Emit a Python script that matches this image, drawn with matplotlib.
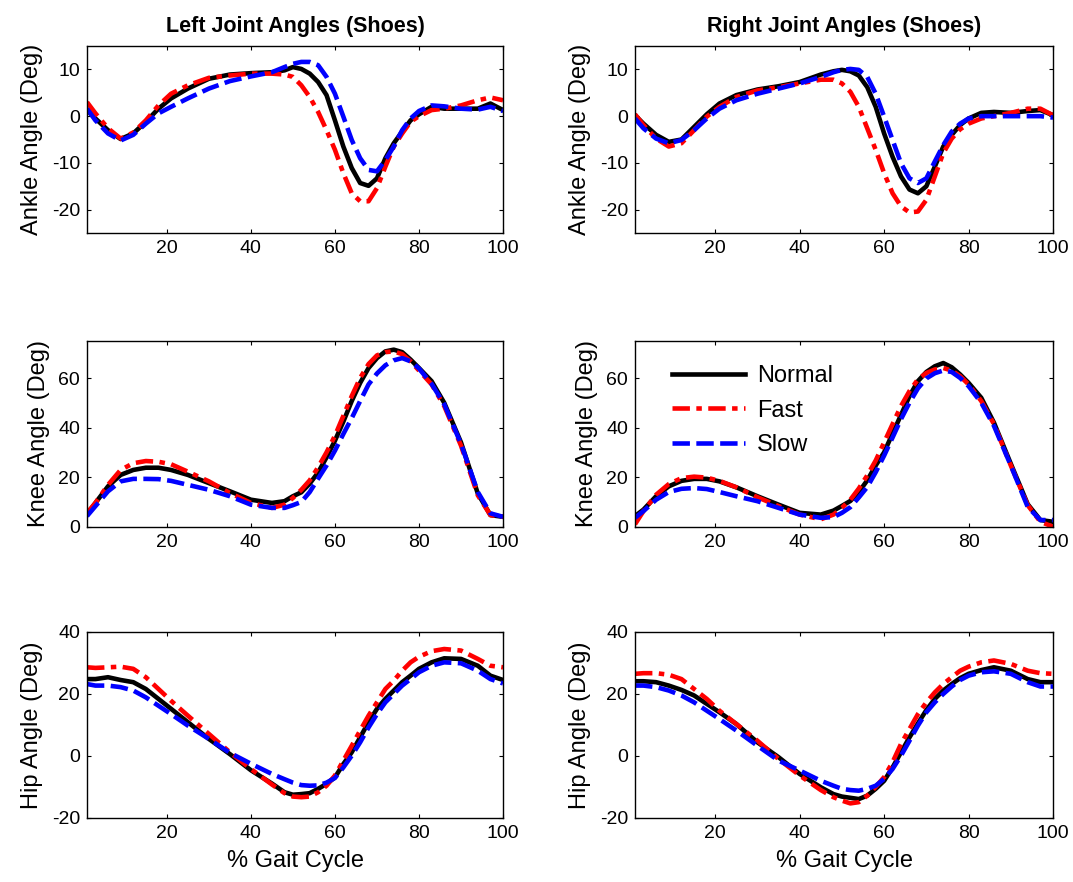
import matplotlib
matplotlib.use("Agg")
import matplotlib.pyplot as plt

plt.rcParams['font.family'] = ['Liberation Sans', 'DejaVu Sans']
plt.rcParams['axes.unicode_minus'] = False

# % gait cycle sample points (shared by every curve)
gait = [1, 3, 6, 9, 12, 15, 18, 21, 25, 30, 35, 40, 45, 48, 50, 52, 54, 56,
        58, 60, 62, 64, 66, 68, 70, 72, 74, 76, 78, 80, 83, 86, 90, 94, 97, 100]

# ankle, left side
ankle_l_normal = [1.3, -0.5, -3.0, -4.9, -3.7, -1.2, 1.6, 3.8, 5.9, 8.0, 8.9, 9.2, 9.4, 9.8, 10.5, 10.1, 9.1, 7.3,
                  4.5, -0.9, -6.5, -11.1, -14.3, -14.9, -13.3, -9.0, -5.8, -3.3, -0.9, 0.4, 2.0, 1.6, 1.6, 1.6, 2.7, 1.3]
ankle_l_fast = [3.0, 0.6, -2.6, -4.8, -3.5, -0.9, 2.3, 4.8, 6.6, 8.2, 8.7, 9.1, 9.1, 8.9, 8.4, 6.6, 4.1, 0.9,
                -3.0, -7.2, -12.2, -16.5, -18.2, -18.2, -15.4, -10.8, -6.5, -3.7, -1.2, 0.0, 1.3, 1.6, 2.3, 3.4, 4.0, 3.4]
ankle_l_slow = [1.6, -0.9, -3.7, -5.2, -4.0, -1.6, 0.6, 2.0, 3.8, 5.9, 7.5, 8.5, 9.4, 10.5, 11.2, 11.6, 11.6, 10.9,
                8.4, 4.8, -0.1, -5.1, -9.0, -11.5, -11.8, -9.4, -6.5, -3.0, -0.5, 1.1, 2.3, 2.1, 1.6, 1.4, 2.0, 1.1]

# ankle, right side
ankle_r_normal = [0.2, -1.6, -4.0, -5.5, -5.0, -2.3, 0.4, 2.7, 4.5, 5.7, 6.4, 7.3, 8.9, 9.6, 9.9, 9.6, 8.7, 6.2,
                  2.0, -3.7, -8.7, -12.9, -15.7, -16.5, -15.0, -10.8, -6.5, -4.0, -1.9, -0.5, 0.7, 0.9, 0.7, 1.1, 1.3, 0.2]
ankle_r_fast = [0.4, -1.9, -4.8, -6.5, -5.8, -3.0, -0.1, 2.0, 4.1, 5.5, 6.2, 7.0, 7.8, 7.8, 7.0, 5.2, 2.0, -2.6,
                -7.2, -12.2, -16.5, -19.3, -20.6, -20.4, -17.9, -12.9, -7.9, -4.8, -2.8, -1.6, -0.5, 0.0, 0.7, 1.6, 1.6, 0.2]
ankle_r_slow = [-0.5, -2.6, -4.8, -5.8, -5.1, -3.0, -0.5, 1.6, 3.4, 4.8, 5.9, 7.0, 8.4, 9.4, 9.9, 10.1, 9.9, 8.4,
                4.8, -0.1, -5.1, -10.1, -13.3, -14.3, -13.3, -9.7, -6.2, -3.3, -1.6, -0.5, 0.0, 0.0, 0.0, 0.0, 0.0, -0.3]

# knee
knee_l_normal = [5.0, 9.7, 16.4, 21.0, 23.0, 23.9, 23.9, 23.0, 21.0, 17.7, 14.4, 11.0, 9.7, 10.4, 12.4, 14.0, 17.5, 22.0,
                 28.1, 34.8, 42.5, 50.8, 58.1, 64.1, 68.1, 70.8, 71.5, 70.5, 67.5, 64.1, 58.8, 50.1, 34.1, 13.5, 4.8, 4.1]
knee_l_fast = [5.7, 9.7, 17.0, 23.0, 25.7, 26.6, 26.3, 25.3, 22.3, 18.4, 13.7, 9.7, 7.7, 9.0, 11.7, 15.0, 18.8, 24.1,
               30.1, 36.8, 44.8, 52.8, 60.1, 65.7, 69.2, 70.5, 70.8, 69.7, 66.8, 63.1, 57.5, 48.8, 32.8, 12.8, 4.8, 4.1]
knee_l_slow = [4.4, 8.4, 14.4, 18.4, 19.4, 19.4, 19.3, 18.6, 17.0, 15.0, 12.4, 9.0, 7.7, 7.7, 8.8, 10.1, 14.1, 19.5,
               24.8, 30.8, 37.5, 43.9, 50.8, 57.5, 61.9, 65.2, 67.2, 68.1, 66.8, 63.9, 57.7, 49.5, 33.5, 14.1, 5.5, 4.1]

knee_r_normal = [4.4, 7.0, 12.4, 16.4, 18.6, 19.4, 19.4, 18.4, 16.0, 12.4, 9.0, 5.7, 5.0, 6.6, 8.5, 10.5, 14.1, 18.8,
                 24.8, 30.1, 37.7, 45.2, 52.8, 58.8, 62.5, 64.8, 66.1, 64.4, 61.5, 58.1, 52.1, 42.1, 25.5, 9.2, 2.8, 2.1]
knee_r_fast = [1.1, 6.4, 13.0, 17.3, 19.7, 20.3, 19.9, 18.6, 16.0, 12.0, 8.4, 5.0, 3.1, 5.0, 7.7, 11.0, 15.5, 20.8,
               26.8, 34.1, 41.5, 48.8, 54.8, 59.5, 62.1, 63.5, 64.1, 63.1, 60.8, 57.5, 50.8, 41.5, 24.8, 8.8, 2.1, 0.1]
knee_r_slow = [3.7, 6.4, 11.0, 14.1, 15.4, 15.7, 15.3, 14.1, 12.4, 10.4, 7.7, 5.0, 3.7, 4.0, 5.7, 8.0, 11.9, 16.1,
               22.1, 28.8, 36.1, 43.5, 50.1, 55.9, 59.9, 62.0, 63.1, 62.5, 60.1, 56.8, 50.1, 40.8, 24.8, 8.1, 2.8, 2.8]

# hip
hip_l_normal = [24.8, 24.8, 25.4, 24.5, 23.8, 21.6, 18.4, 15.2, 10.9, 5.5, 0.6, -4.6, -8.9, -11.7, -12.5, -12.3, -12.0, -10.6,
                -9.0, -6.9, -2.6, 1.2, 6.0, 10.9, 15.2, 18.4, 21.1, 23.8, 25.9, 28.1, 30.2, 31.5, 31.3, 29.1, 25.9, 24.5]
hip_l_fast = [28.6, 28.4, 28.6, 28.8, 28.1, 25.4, 21.6, 17.8, 13.0, 7.1, 1.2, -4.2, -9.2, -12.0, -13.1, -13.3, -13.1, -11.7,
              -9.6, -6.3, -1.5, 3.3, 8.2, 13.0, 17.3, 21.6, 24.3, 27.5, 30.2, 32.0, 33.8, 34.5, 34.0, 31.3, 29.1, 28.6]
hip_l_slow = [23.2, 22.7, 22.7, 22.2, 21.1, 18.9, 16.2, 13.5, 9.8, 5.5, 1.0, -2.5, -5.8, -7.5, -8.6, -9.4, -9.6, -9.5,
              -8.6, -7.1, -3.7, 0.1, 4.4, 9.2, 13.5, 17.3, 20.0, 22.7, 24.8, 27.0, 29.1, 30.2, 29.9, 27.5, 24.8, 23.4]

hip_r_normal = [24.1, 24.1, 23.8, 22.7, 21.3, 19.5, 16.8, 14.1, 10.3, 4.4, -0.4, -5.8, -10.1, -12.3, -13.1, -13.5, -13.9, -12.8,
                -10.6, -8.0, -3.7, 1.2, 6.0, 10.5, 14.8, 18.4, 21.1, 23.2, 25.1, 26.5, 27.7, 28.6, 27.5, 24.8, 23.8, 23.8]
hip_r_fast = [26.5, 26.7, 26.7, 26.2, 24.8, 21.6, 18.4, 14.6, 10.3, 4.9, -1.0, -6.3, -11.0, -13.3, -14.4, -15.3, -14.9, -12.8,
              -10.0, -6.8, -2.0, 3.9, 8.7, 13.5, 17.3, 20.5, 23.2, 25.4, 27.5, 28.8, 30.2, 30.8, 29.7, 27.5, 26.7, 26.5]
hip_r_slow = [22.7, 22.7, 22.2, 21.1, 19.5, 17.3, 14.6, 11.9, 8.2, 3.3, -1.5, -4.7, -8.0, -9.6, -10.6, -11.0, -11.2, -10.6,
              -9.6, -7.4, -4.2, 0.1, 4.9, 9.8, 14.1, 17.3, 20.0, 22.4, 24.5, 25.9, 27.0, 27.3, 26.5, 23.8, 22.4, 22.4]

titles = ['Left Joint Angles (Shoes)', 'Right Joint Angles (Shoes)']
ylabels = ['Ankle Angle (Deg)', 'Knee Angle (Deg)', 'Hip Angle (Deg)']
yticks = [[-20, -10, 0, 10], [0, 20, 40, 60], [-20, 0, 20, 40]]
ylims = [(-25, 15), (0, 75), (-20, 40)]
xticks = [20, 40, 60, 80, 100]

data = [[(ankle_l_normal, ankle_l_fast, ankle_l_slow), (ankle_r_normal, ankle_r_fast, ankle_r_slow)],
        [(knee_l_normal, knee_l_fast, knee_l_slow), (knee_r_normal, knee_r_fast, knee_r_slow)],
        [(hip_l_normal, hip_l_fast, hip_l_slow), (hip_r_normal, hip_r_fast, hip_r_slow)]]

# axes boxes in figure fractions (left, bottom, width, height)
col_x = [(0.0811, 0.3877), (0.5918, 0.3896)]
row_y = [(0.7358, 0.2120), (0.4025, 0.2109), (0.0726, 0.2109)]

fig = plt.figure(figsize=(10.73, 8.82), dpi=100)

lw = 3.3
for r in range(3):
    for c in range(2):
        ax = fig.add_axes([col_x[c][0], row_y[r][0], col_x[c][1], row_y[r][1]])
        normal, fast, slow = data[r][c]
        ax.plot(gait, normal, color='black', lw=lw, ls='-', label='Normal')
        ax.plot(gait, fast, color='red', lw=lw, ls=(0, (3.8, 1.4, 1.2, 1.4)), label='Fast')
        ax.plot(gait, slow, color='blue', lw=lw, ls=(0, (3.8, 1.4)), label='Slow')

        ax.set_xlim(1, 100)
        ax.set_ylim(*ylims[r])
        ax.set_xticks(xticks)
        ax.set_yticks(yticks[r])
        ax.tick_params(direction='in', top=True, right=True, length=3, width=0.8,
                       labelsize=14, pad=5)
        for sp in ax.spines.values():
            sp.set_linewidth(1.0)
        ax.set_ylabel(ylabels[r], fontsize=17, labelpad=6)
        if r == 0:
            ax.set_title(titles[c], fontsize=15.5, fontweight='bold', pad=10)
        if r == 2:
            ax.set_xlabel('% Gait Cycle', fontsize=17, labelpad=6)
        if r == 1 and c == 1:
            ax.legend(loc='upper left', bbox_to_anchor=(0.088, 0.87), frameon=False,
                      fontsize=17, handlelength=3.1, handletextpad=0.5,
                      labelspacing=0.53, borderpad=0, borderaxespad=0)

fig.savefig('out.png', dpi=100)
